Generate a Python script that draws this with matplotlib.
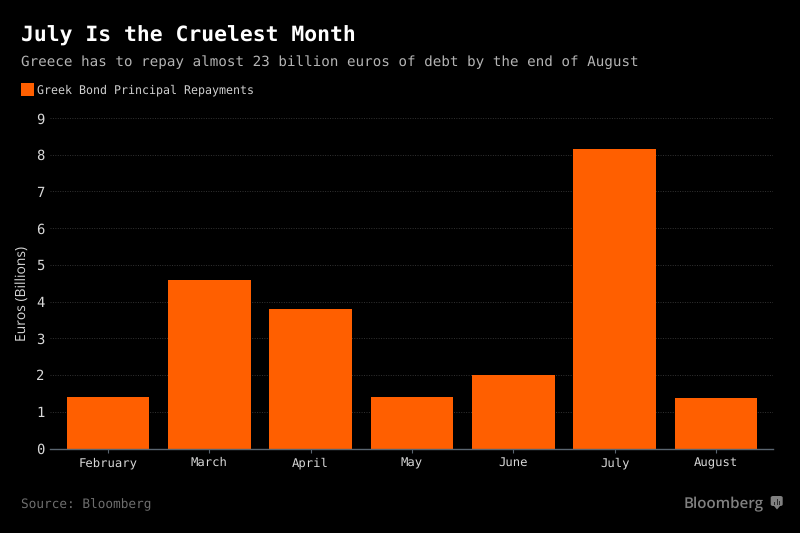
import matplotlib
matplotlib.use('Agg')
import matplotlib.pyplot as plt
from matplotlib.patches import FancyBboxPatch, Polygon, Rectangle

months = ['February', 'March', 'April', 'May', 'June', 'July', 'August']
repayments = [1.4, 4.6, 3.8, 1.4, 2.0, 8.15, 1.37]
y_ticks = [0, 1, 2, 3, 4, 5, 6, 7, 8, 9]

W, H = 800, 533
ORANGE = '#ff5f00'
MONO = 'DejaVu Sans Mono'

plt.rcParams['font.family'] = MONO
plt.rcParams['text.hinting'] = 'no_hinting'  # keeps text widths from snapping

fig = plt.figure(figsize=(8, 5.33), dpi=100, facecolor='black')
# axes box in pixels: x 50-773, y 118-448.5
ax = fig.add_axes([50 / W, 1 - 448.5 / H, 723 / W, 330.5 / H], facecolor='black')

x = list(range(len(months)))
ax.bar(x, repayments, width=0.815, color=ORANGE, zorder=3)

ax.set_xlim(-0.572, 6.5625)
ax.set_ylim(0, 9)
ax.set_xticks(x)
ax.set_xticklabels(months)
ax.set_yticks(y_ticks)

ax.tick_params(axis='x', colors='#d8d8d8', labelsize=8.8, length=3, width=0.8, color='#5a6570', pad=3)
ax.tick_params(axis='y', colors='#d8d8d8', labelsize=10, length=0, pad=4)

ax.grid(axis='y', color='#333333', linestyle=(0, (1, 1.5)), linewidth=0.7, zorder=0)
for s in ['top', 'right', 'left']:
    ax.spines[s].set_visible(False)
ax.spines['bottom'].set_color('#5a6570')
ax.spines['bottom'].set_linewidth(1.0)
ax.spines['bottom'].set_zorder(4)

# axis title is placed by hand, it sits off-centre in the original
fig.text(22.5 / W, 1 - 293.5 / H, 'Euros (Billions)', color='#d8d8d8', fontsize=10,
         family='Open Sans', rotation=90, va='center', ha='center')

# header
fig.text(21 / W, 1 - 35.5 / H, 'July Is the Cruelest Month', color='white',
         fontsize=15.4, fontweight='bold', va='center', ha='left')
fig.text(21 / W, 1 - 62 / H,
         'Greece has to repay almost 23 billion euros of debt by the end of August',
         color='#b4b4b4', fontsize=10.25, va='center', ha='left')

# legend
fig.add_artist(Rectangle((21 / W, 1 - 96 / H), 13 / W, 13 / H, transform=fig.transFigure,
                         facecolor=ORANGE, edgecolor='none'))
fig.text(37 / W, 1 - 90 / H, 'Greek Bond Principal Repayments', color='#d0d0d0',
         fontsize=8.35, va='center', ha='left')

# footer
fig.text(21 / W, 1 - 505 / H, 'Source: Bloomberg', color='#6e6e6e',
         fontsize=9.2, va='center', ha='left')
fig.text(684 / W, 1 - 504.5 / H, 'Bloomberg', color='#808080', fontsize=10.9,
         fontweight='semibold', family='Open Sans', va='center', ha='left')

# little chart-bubble logo next to the wordmark
fig.add_artist(FancyBboxPatch((770.7 / W, 1 - 506 / H), 12 / W, 10 / H, transform=fig.transFigure,
                              boxstyle='round,pad=0,rounding_size=0.003',
                              facecolor='#808080', edgecolor='none'))
fig.add_artist(Polygon([(774 / W, 1 - 506 / H), (780 / W, 1 - 506 / H), (777 / W, 1 - 509.5 / H)],
                       transform=fig.transFigure, facecolor='#808080', edgecolor='none'))
for px, top in [(774, 502), (776.5, 498.5), (779, 501)]:
    fig.add_artist(Rectangle((px / W, 1 - 505 / H), 1.2 / W, (505 - top) / H,
                             transform=fig.transFigure, facecolor='#2a2a2a', edgecolor='none'))

fig.savefig('out.png', dpi=100, facecolor='black')
